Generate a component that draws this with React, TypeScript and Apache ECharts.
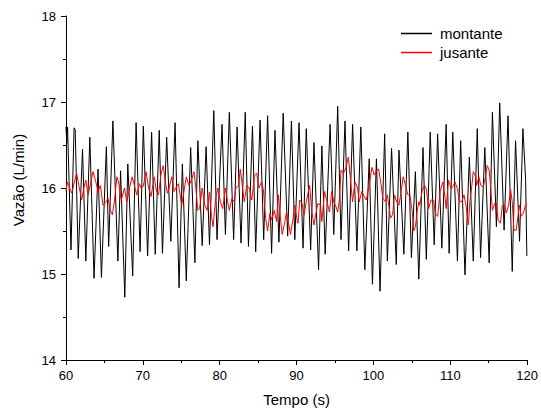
import React, { useEffect, useRef } from "react";
import * as echarts from "echarts";

const xTicks = [60, 70, 80, 90, 100, 110, 120];
const yTicks = [14, 15, 16, 17, 18];

const montanteTime = [
  60.0, 60.1, 60.2, 60.65, 61.05, 61.2, 61.59, 62.15, 62.58, 63.1, 63.65, 64.17, 64.61, 65.25, 65.55, 66.1, 66.75, 67.1,
  67.65, 68.04, 68.68, 69.12, 69.64, 70.06, 70.62, 71.14, 71.61, 72.13, 72.55, 73.1, 73.64, 74.19, 74.71, 75.14, 75.65,
  76.22, 76.77, 77.16, 77.72, 78.23, 78.67, 79.23, 79.65, 80.3, 80.74, 81.25, 81.81, 82.26, 82.77, 83.32, 83.74, 84.26,
  84.68, 85.25, 85.72, 86.23, 86.75, 87.19, 87.7, 88.26, 88.84, 89.33, 89.77, 90.32, 90.84, 91.26, 91.83, 92.26, 92.86,
  93.29, 93.72, 94.36, 94.84, 95.35, 95.78, 96.3, 96.77, 97.29, 97.85, 98.36, 98.88, 99.45, 99.87, 100.39, 100.86,
  101.46, 101.81, 102.36, 102.97, 103.32, 103.96, 104.48, 104.94, 105.46, 105.9, 106.45, 106.88, 107.39, 107.91, 108.35,
  108.9, 109.46, 109.85, 110.32, 110.93, 111.35, 111.91, 112.48, 112.99, 113.51, 113.94, 114.49, 115.06, 115.48, 116.0,
  116.43, 117.0, 117.51, 118.06, 118.49, 119.01, 119.45, 119.8, 119.96,
];
const montanteFlow = [
  16.71, 16.52, 16.71, 15.28, 16.7, 16.68, 15.18, 16.45, 15.15, 16.59, 14.95, 16.22, 14.96, 16.48, 15.32, 16.78, 15.15, 16.2,
  14.73, 16.28, 14.98, 16.76, 15.26, 16.72, 15.21, 16.65, 15.23, 16.67, 15.24, 16.59, 15.38, 16.76, 14.84, 16.28, 14.92,
  16.47, 15.13, 16.55, 15.33, 16.48, 15.34, 16.9, 15.4, 16.74, 15.46, 16.88, 15.4, 16.71, 15.36, 16.88, 15.32, 16.72,
  15.26, 16.79, 15.4, 16.84, 15.24, 16.67, 15.37, 16.87, 15.44, 16.78, 15.4, 16.76, 15.3, 16.69, 15.28, 16.53, 15.05,
  16.49, 15.23, 16.74, 15.46, 16.95, 15.4, 16.78, 15.27, 16.74, 15.27, 16.71, 15.05, 16.34, 14.88, 16.34, 14.8,
  16.63, 15.15, 16.46, 15.11, 16.44, 15.23, 16.65, 15.19, 16.19, 14.94, 16.47, 15.17, 16.65, 15.34, 16.63,
  15.3, 16.74, 15.24, 16.65, 15.15, 16.55, 14.99, 16.36, 15.15, 16.69, 15.19, 16.47, 15.13, 16.88, 15.55,
  16.99, 15.51, 16.84, 15.03, 16.55, 15.38, 16.69, 16.1, 15.21,
];

const jusanteTime = [
  60.0, 60.17, 60.74, 61.38, 62.03, 62.32, 62.58, 62.88, 63.52, 63.83, 64.17, 64.48, 64.81, 65.16, 65.46, 65.77, 66.03,
  66.32, 66.62, 66.88, 67.19, 67.61, 67.91, 68.26, 68.61, 68.9, 69.2, 69.55, 69.77, 70.06, 70.41, 70.75, 71.06, 71.48,
  71.78, 72.04, 72.34, 72.65, 72.99, 73.2, 73.42, 73.77, 74.06, 74.28, 74.62, 75.06, 75.35, 75.65, 76.0, 76.35, 76.65,
  76.86, 77.16, 77.38, 77.72, 78.06, 78.37, 78.67, 78.93, 79.14, 79.45, 79.74, 80.09, 80.39, 80.74, 81.03, 81.25, 81.59,
  81.9, 82.1, 82.45, 82.67, 82.88, 83.19, 83.52, 83.83, 84.17, 84.52, 84.81, 85.12, 85.46, 85.68, 85.97, 86.23, 86.54,
  86.75, 87.1, 87.39, 87.61, 87.83, 88.13, 88.48, 88.68, 88.99, 89.2, 89.55, 89.77, 90.1, 90.19, 90.41, 90.71, 90.97,
  91.26, 91.7, 92.0, 92.26, 92.55, 92.77, 93.12, 93.29, 93.64, 93.97, 94.28, 94.58, 94.84, 95.14, 95.35, 95.57, 95.78,
  96.09, 96.43, 96.74, 97.0, 97.29, 97.59, 97.94, 98.15, 98.48, 98.81, 99.07, 99.38, 99.81, 100.1, 100.36, 100.67,
  100.97, 101.23, 101.59, 101.81, 102.23, 102.49, 102.75, 103.01, 103.32, 103.61, 103.87, 104.17, 104.48, 104.74,
  105.03, 105.25, 105.46, 105.68, 105.9, 106.03, 106.32, 106.62, 106.88, 107.18, 107.48, 107.83, 108.04, 108.35,
  108.68, 109.03, 109.33, 109.46, 109.77, 110.1, 110.41, 110.62, 110.93, 111.19, 111.48, 111.78, 112.04, 112.35,
  112.55, 112.77, 112.99, 113.33, 113.42, 113.72, 113.97, 114.28, 114.58, 114.8, 115.06, 115.23, 115.48, 115.78,
  116.0, 116.22, 116.52, 116.77, 117.07, 117.29, 117.59, 117.85, 118.06, 118.28, 118.58, 118.8, 119.01, 119.23,
  119.52, 119.78, 119.96,
];
const jusanteFlow = [
  15.96, 16.07, 15.94, 16.17, 15.86, 16.0, 16.09, 15.92, 16.19, 16.09, 15.96, 16.03, 15.8, 15.83, 15.88, 15.74, 15.69,
  15.86, 16.13, 16.05, 15.86, 16.0, 15.84, 16.0, 16.13, 16.03, 15.92, 16.05, 16.0, 16.02, 16.19, 16.0, 15.9, 16.13,
  15.96, 15.92, 16.15, 16.26, 16.03, 15.94, 16.0, 16.13, 15.96, 16.0, 16.05, 15.8, 15.96, 16.13, 16.03, 16.1, 16.19,
  16.03, 15.74, 15.76, 16.0, 15.8, 15.74, 15.95, 15.67, 15.55, 15.86, 16.0, 15.84, 15.76, 16.0, 15.84, 15.74, 15.88,
  15.84, 16.0, 16.03, 16.22, 16.07, 15.84, 16.03, 16.0, 15.86, 16.15, 16.17, 16.0, 16.07, 15.98, 15.65, 15.5, 15.71,
  15.63, 15.74, 15.61, 15.92, 15.71, 15.46, 15.61, 15.72, 15.57, 15.46, 15.65, 15.8, 15.61, 15.59, 15.86, 15.82, 15.69,
  15.84, 16.03, 15.72, 15.57, 15.72, 15.82, 15.8, 15.61, 15.96, 15.84, 15.72, 15.96, 15.84, 15.78, 15.72, 15.86, 16.21,
  16.17, 16.24, 16.36, 16.11, 15.84, 16.07, 16.0, 15.84, 15.96, 15.9, 15.86, 16.0, 16.24, 16.15, 16.2, 16.22,
  16.05, 15.88, 15.84, 15.92, 15.65, 15.69, 15.92, 15.84, 15.8, 15.96, 16.13, 16.03, 15.92, 15.92,
  15.74, 15.5, 15.55, 15.72, 15.84, 15.8, 15.96, 16.03, 15.99, 15.76, 15.86, 15.86, 15.71, 15.67,
  15.96, 16.07, 15.88, 15.76, 16.09, 15.99, 16.03, 16.07, 15.99, 15.84, 15.84, 15.92, 15.8, 15.57,
  15.84, 16.0, 16.19, 16.13, 16.03, 16.13, 16.03, 16.01, 16.13, 16.26, 16.21, 16.03, 15.74, 15.82,
  15.82, 15.63, 15.59, 15.8, 15.8, 15.71, 15.8, 15.98, 15.84, 15.51, 15.51, 15.67, 15.8, 15.67,
  15.71, 15.8, 15.82,
];

const zip = (a: number[], b: number[]) => a.map((t, i) => [t, b[i]]);

const FONT = "'Liberation Sans', Arial, sans-serif";

export default function App() {
  const ref = useRef<HTMLDivElement>(null);
  useEffect(() => {
    if (!ref.current) return;
    const chart = echarts.init(ref.current, null, { renderer: "svg", width: 541, height: 412 });
    chart.setOption({
      animation: false,
      backgroundColor: "#ffffff",
      textStyle: { fontFamily: FONT },
      grid: { left: 66, top: 16, width: 465, height: 347, containLabel: false },
      legend: {
        orient: "vertical",
        left: 396,
        top: 21,
        itemWidth: 31,
        itemHeight: 1.5,
        itemGap: 4,
        icon: "rect",
        textStyle: { fontSize: 15, color: "#000", fontFamily: FONT, padding: [0, 0, 0, 3] },
        data: ["montante", "jusante"],
      },
      xAxis: {
        type: "value",
        min: xTicks[0],
        max: xTicks[xTicks.length - 1],
        interval: 10,
        name: "Tempo (s)",
        nameLocation: "middle",
        nameGap: 32,
        nameTextStyle: { fontSize: 15, color: "#000", fontFamily: FONT },
        axisLine: { show: true, onZero: false, lineStyle: { color: "#000", width: 1 } },
        axisTick: { show: true, inside: false, length: 5, lineStyle: { color: "#000" } },
        minorTick: { show: true, splitNumber: 2, length: 3, lineStyle: { color: "#000" } },
        axisLabel: { fontSize: 13, color: "#000", margin: 9, fontFamily: FONT },
        splitLine: { show: false },
      },
      yAxis: {
        type: "value",
        min: yTicks[0],
        max: yTicks[yTicks.length - 1],
        interval: 1,
        name: "Vazão (L/min)",
        nameLocation: "middle",
        nameRotate: 90,
        nameGap: 40,
        nameTextStyle: { fontSize: 15, color: "#000", fontFamily: FONT, padding: [0, 0, 0, 16] },
        axisLine: { show: true, onZero: false, lineStyle: { color: "#000", width: 1 } },
        axisTick: { show: true, inside: false, length: 5, lineStyle: { color: "#000" } },
        minorTick: { show: true, splitNumber: 2, length: 3, lineStyle: { color: "#000" } },
        axisLabel: { fontSize: 13, color: "#000", margin: 10, fontFamily: FONT },
        splitLine: { show: false },
      },
      series: [
        {
          name: "montante",
          type: "line",
          data: zip(montanteTime, montanteFlow),
          showSymbol: false,
          symbol: "none",
          lineStyle: { color: "#000000", width: 1 },
          itemStyle: { color: "#000000" },
        },
        {
          name: "jusante",
          type: "line",
          data: zip(jusanteTime, jusanteFlow),
          showSymbol: false,
          symbol: "none",
          lineStyle: { color: "#ff0000", width: 1 },
          itemStyle: { color: "#ff0000" },
        },
      ],
    });
    return () => chart.dispose();
  }, []);
  return <div ref={ref} style={{ width: 541, height: 412, position: "absolute", left: 0, top: 0 }} />;
}
